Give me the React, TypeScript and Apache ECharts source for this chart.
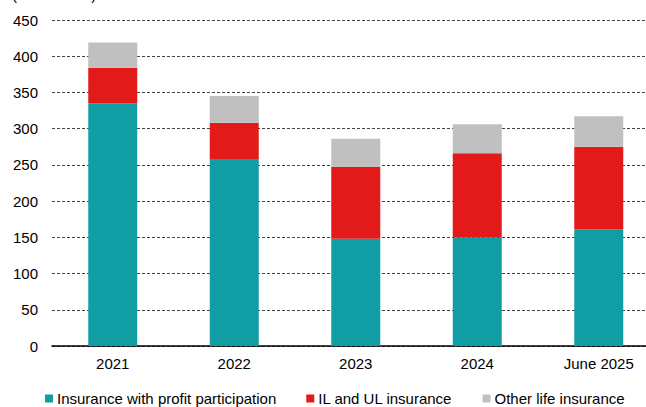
import React, { useEffect, useRef } from "react";
import * as echarts from "echarts";

const categories = ["2021", "2022", "2023", "2024", "June 2025"];
const profitParticipation = [335, 257, 148, 150, 161];
const ilUlInsurance = [49, 51, 99, 116, 114];
const otherLife = [35, 37, 39, 40, 42];
const seriesNames = ["Insurance with profit participation", "IL and UL insurance", "Other life insurance"];
const colors = ["#109EA4", "#E21A1A", "#C0C0C0"];
const unitLabel = "(EUR billion)";

const FONT = "'Liberation Sans', Arial, sans-serif";
const CHART_W = 670;

export default function App() {
  const ref = useRef<HTMLDivElement>(null);
  useEffect(() => {
    if (!ref.current) return;
    const chart = echarts.init(ref.current, undefined, { renderer: "svg" });
    const values = [profitParticipation, ilUlInsurance, otherLife];
    chart.setOption({
      animation: false,
      textStyle: { fontFamily: FONT },
      grid: { left: 52, top: 20, right: CHART_W - 52 - 607.5, bottom: 61, containLabel: false },
      legend: {
        left: 45,
        top: 391,
        padding: 0,
        itemWidth: 8,
        itemHeight: 8,
        itemGap: 30,
        icon: "rect",
        textStyle: { fontSize: 15, color: "#000", fontFamily: FONT, padding: [0, 0, 0, -1] },
        data: seriesNames,
      },
      graphic: [
        {
          type: "text",
          left: 12,
          top: -13,
          style: { text: unitLabel, fontSize: 15, fill: "#000", fontFamily: FONT },
        },
      ],
      xAxis: {
        type: "category",
        data: categories,
        axisLine: { show: true, lineStyle: { color: "#000", width: 1.5 } },
        axisTick: { show: false },
        axisLabel: { color: "#000", fontSize: 15, margin: 10, fontFamily: FONT },
      },
      yAxis: {
        type: "value",
        min: 0,
        max: 450,
        interval: 50,
        axisLine: { show: false },
        axisTick: { show: false },
        axisLabel: { color: "#000", fontSize: 15, margin: 14, fontFamily: FONT },
        splitLine: {
          show: true,
          lineStyle: { color: "#444", width: 1, type: [3, 2] },
        },
      },
      series: seriesNames.map((name, i) => ({
        name,
        type: "bar",
        stack: "total",
        barWidth: 49,
        data: values[i],
        itemStyle: { color: colors[i] },
      })),
    });
    return () => chart.dispose();
  }, []);
  return (
    <div style={{ width: 646, height: 407, position: "absolute", left: 0, top: 0, overflow: "hidden" }}>
      <div ref={ref} style={{ width: CHART_W, height: 407 }} />
    </div>
  );
}
